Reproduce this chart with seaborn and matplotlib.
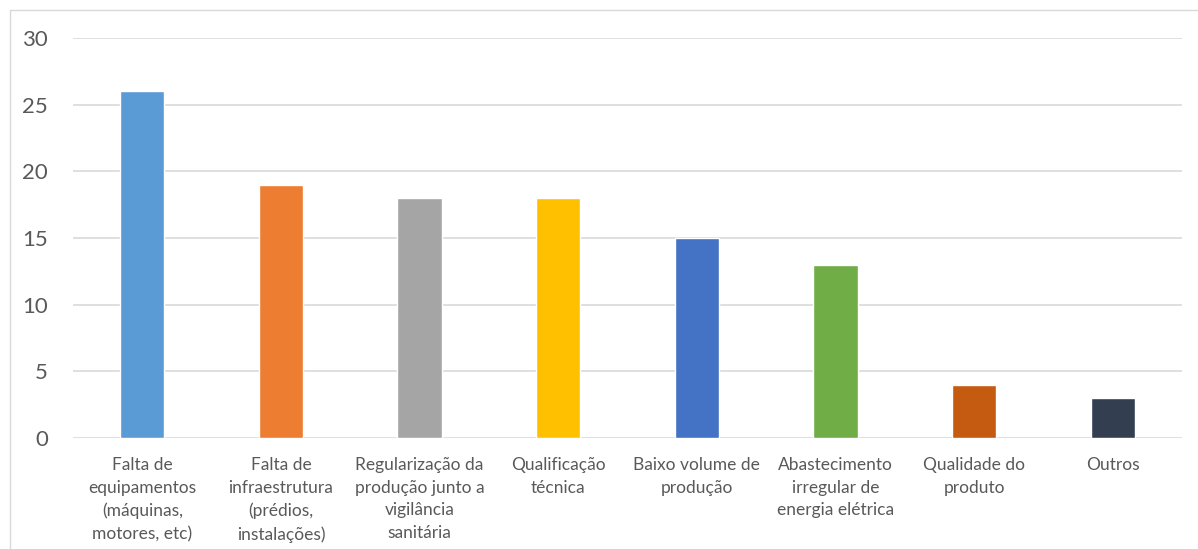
#!/usr/bin/env python3

import matplotlib.pyplot as plt
import pandas as pd
import seaborn as sns
from matplotlib.lines import Line2D

categories = [
    "Falta de\nequipamentos\n(máquinas,\nmotores, etc)",
    "Falta de\ninfraestrutura\n(prédios,\ninstalações)",
    "Regularização da\nprodução junto a\nvigilância\nsanitária",
    "Qualificação\ntécnica",
    "Baixo volume de\nprodução",
    "Abastecimento\nirregular de\nenergia elétrica",
    "Qualidade do\nproduto",
    "Outros",
]
values = [26, 19, 18, 18, 15, 13, 4, 3]
colors = ["#5B9BD5", "#ED7D31", "#A5A5A5", "#FFC000",
          "#4472C4", "#70AD47", "#C55A11", "#333F50"]
yticks = [0, 5, 10, 15, 20, 25, 30]


def main():
    sns.set_style("white")
    plt.rcParams["font.family"] = ["Lato", "DejaVu Sans"]

    data = pd.DataFrame({"cat": categories, "val": values})

    fig = plt.figure(figsize=(11.98, 5.49), dpi=100)
    ax = fig.add_axes([73 / 1198, 1 - 438 / 549, (1182 - 73) / 1198, 400 / 549])

    sns.barplot(data=data, x="cat", y="val", hue="cat", palette=colors,
                width=0.32, legend=False, ax=ax, zorder=3, saturation=1)

    ax.set_ylim(0, 30)
    ax.set_xlim(-0.5, len(categories) - 0.5)
    ax.set_yticks(yticks)
    ax.yaxis.grid(True, color="#D9D9D9", linewidth=1.2, zorder=0)
    ax.set_axisbelow(True)
    for s in ax.spines.values():
        s.set_visible(False)
    ax.tick_params(axis="both", length=0)
    ax.tick_params(axis="y", labelsize=16, labelcolor="#595959", pad=18)
    ax.tick_params(axis="x", labelsize=12.5, labelcolor="#595959", pad=14)
    for lbl in ax.get_xticklabels():
        lbl.set_linespacing(1.5)
    ax.set_xlabel("")
    ax.set_ylabel("")

    # chart area border
    fig.add_artist(Line2D([10 / 1198, 10 / 1198], [0, 1 - 10 / 549],
                          color="#D9D9D9", lw=1))
    fig.add_artist(Line2D([10 / 1198, 1], [1 - 10 / 549, 1 - 10 / 549],
                          color="#D9D9D9", lw=1))

    fig.savefig("out.png", dpi=100)


if __name__ == "__main__":
    main()
